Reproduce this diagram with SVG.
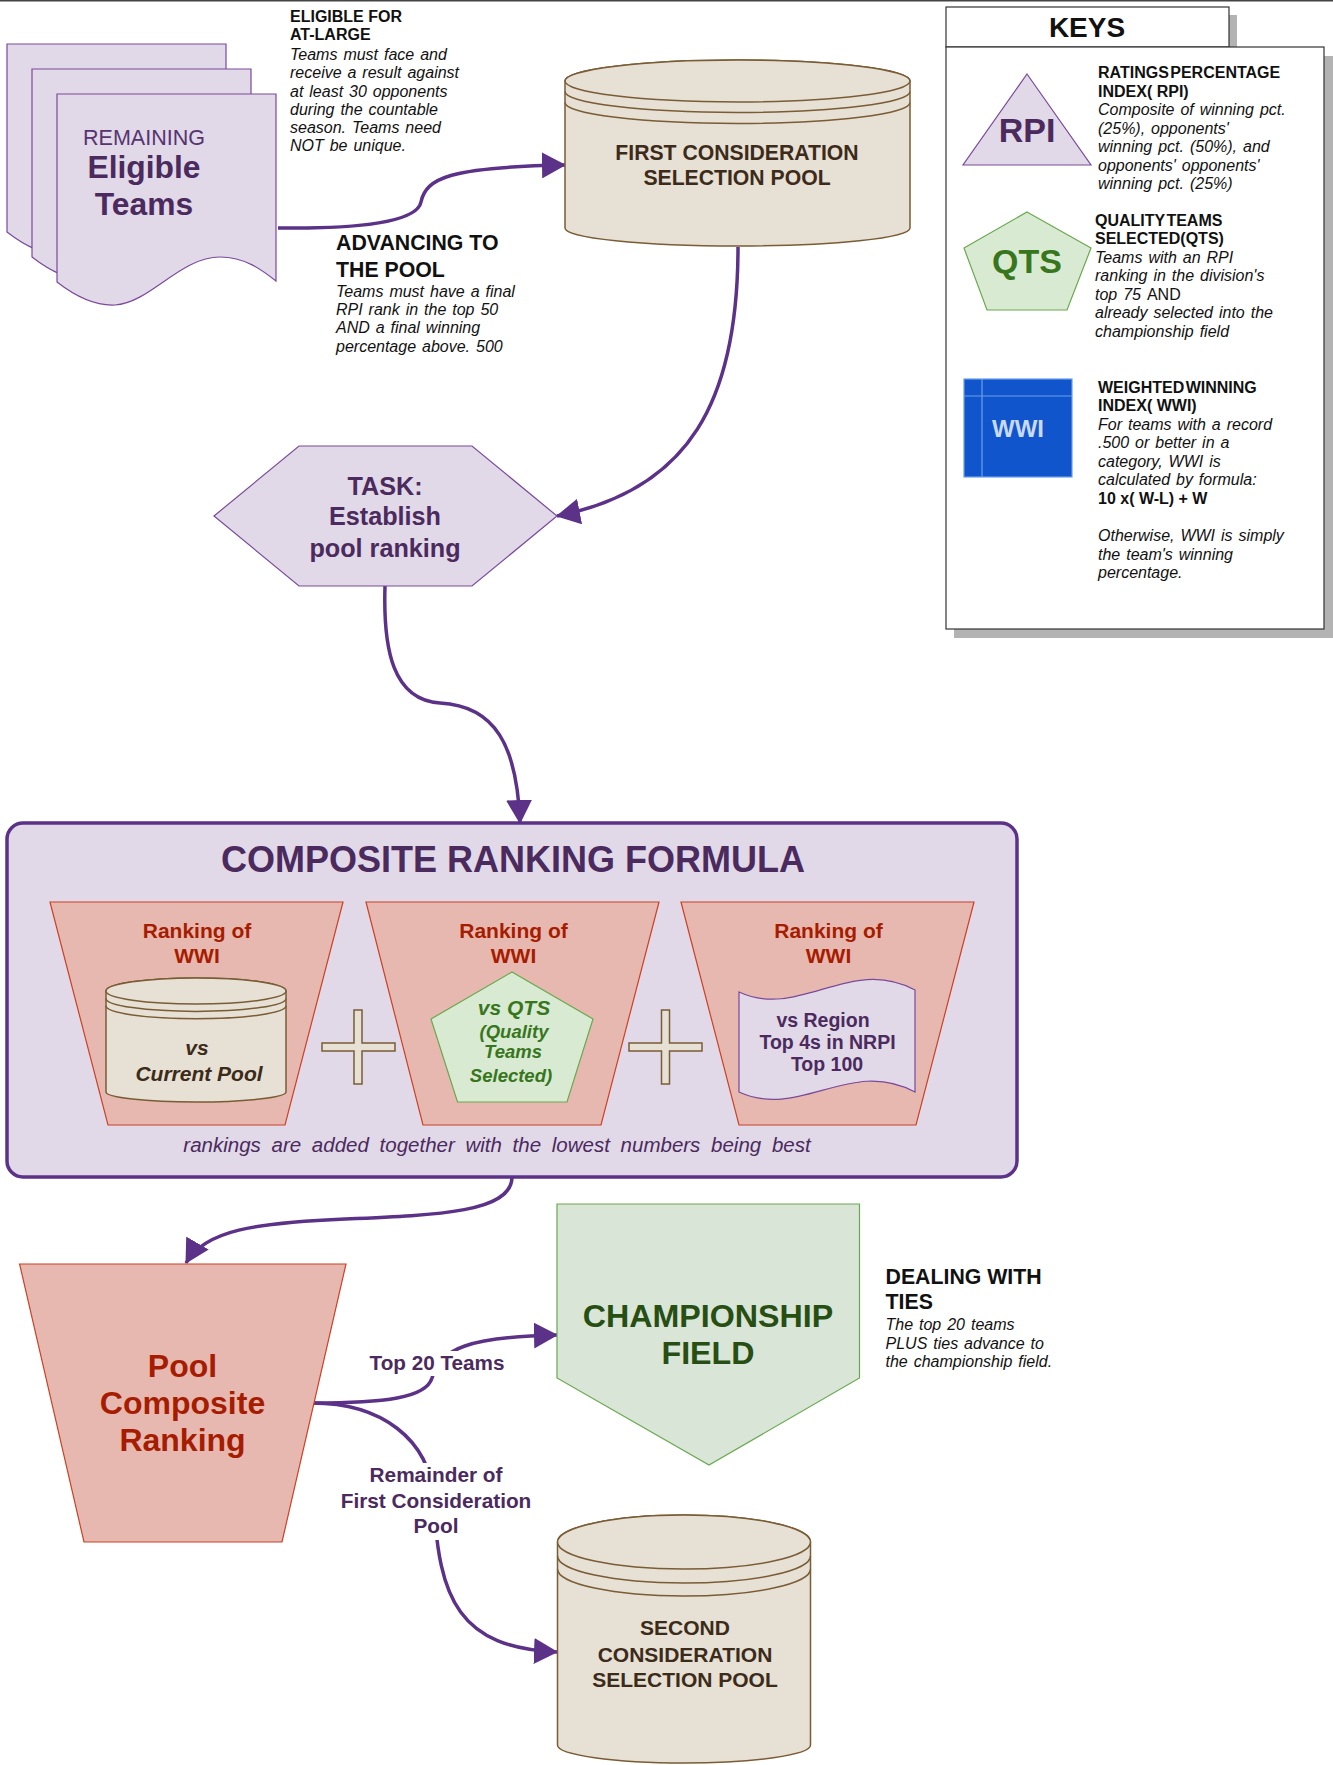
<svg xmlns="http://www.w3.org/2000/svg" width="1333" height="1765" viewBox="0 0 1333 1765">
<defs>
<style>
.f{font-family:'Liberation Sans',Arial,Helvetica,sans-serif}
.b{font-weight:bold}
.i{font-style:italic}
.c{text-anchor:middle}
.conn{fill:none;stroke:#5b3288;stroke-width:3.5;marker-end:url(#ah)}
.lav{fill:#e1d8e8;stroke:#7a4a9a;stroke-width:1.2}
.trap{fill:#e6b8af;stroke:#cc4125;stroke-width:1.2}
.cyl{fill:#e6e0d5;stroke:#7a5c35;stroke-width:1.5}
.rim{fill:none;stroke:#7a5c35;stroke-width:1.5}
.grn{fill:#d9ead3;stroke:#6aa84f;stroke-width:1.2}
.pur{fill:#4b2a5e}
.red{fill:#a61c00}
.brn{fill:#3d2b1a}
.note{font-size:16px;word-spacing:1.5px;fill:#111}
.hd{font-size:16px;font-weight:bold;fill:#111}
</style>
<marker id="ah" markerUnits="userSpaceOnUse" markerWidth="24" markerHeight="26" viewBox="0 0 24 26" refX="23" refY="13" orient="auto">
<path d="M0,0 L24,13 L0,26 z" fill="#5b3288"/>
</marker>
</defs>
<rect x="0" y="0" width="1333" height="1765" fill="#ffffff"/>
<line x1="0" y1="0.75" x2="1333" y2="0.75" stroke="#444" stroke-width="1.5"/>

<g id="connectors">
<path class="conn" d="M278,228 C360,229 417,222 421,202 C426,178 450,167 565,165"/>
<path class="conn" d="M738,247 C738,400 690,490 557,516"/>
<path class="conn" d="M385,586 C383,650 393,700 440,703 C495,706 517,745 520,823"/>
<path class="conn" d="M512,1177 C512,1212 440,1215 345,1219 C255,1223 205,1230 186,1263"/>
<path class="conn" d="M312,1403 C385,1403 426,1398 432,1378 C440,1348 470,1337 557,1335"/>
<path class="conn" d="M312,1403 C380,1403 430,1438 434,1500 C438,1600 460,1648 557,1652"/>
<rect x="364" y="1351" width="146" height="25" fill="#ffffff"/>
<text class="f b c pur" x="437" y="1370" font-size="20.7">Top 20 Teams</text>
<rect x="333" y="1463" width="206" height="77" fill="#ffffff"/>
<text class="f b c pur" font-size="20.8"><tspan x="436" y="1482">Remainder of</tspan><tspan x="436" y="1508">First Consideration</tspan><tspan x="436" y="1533">Pool</tspan></text>
</g>

<g id="eligible-teams">
<path class="lav" d="M7,44 H226 V231 C212,220 195,207 170,207 C130,207 100,253 65,255 C45,256 25,246 7,232 Z"/>
<path class="lav" d="M32,69 H251 V256 C237,245 220,232 195,232 C155,232 125,278 90,280 C70,281 50,271 32,257 Z"/>
<path class="lav" d="M57,94 H276 V281 C262,270 245,257 220,257 C180,257 150,303 115,305 C95,306 75,296 57,282 Z"/>
<text class="f c" x="144" y="145" font-size="21.5" fill="#553470">REMAINING</text>
<text class="f b c pur" x="144" y="178" font-size="31.8">Eligible</text>
<text class="f b c pur" x="144" y="215" font-size="31.8">Teams</text>
</g>

<g id="note-eligible">
<text class="f hd" x="290" y="22">ELIGIBLE FOR</text>
<text class="f hd" x="290" y="40">AT-LARGE</text>
<text class="f i note"><tspan x="290" y="60">Teams must face and</tspan><tspan x="290" y="78">receive a result against</tspan><tspan x="290" y="97">at least 30 opponents</tspan><tspan x="290" y="115">during the countable</tspan><tspan x="290" y="133">season. Teams need</tspan><tspan x="290" y="151">NOT be unique.</tspan></text>
</g>

<g id="note-advancing">
<text class="f b" x="336" y="250" font-size="21.3" fill="#111">ADVANCING TO</text>
<text class="f b" x="336" y="277" font-size="21.3" fill="#111">THE POOL</text>
<text class="f i note"><tspan x="336" y="297">Teams must have a final</tspan><tspan x="336" y="315">RPI rank in the top 50</tspan><tspan x="336" y="333">AND a final winning</tspan><tspan x="336" y="352">percentage above. 500</tspan></text>
</g>

<g id="first-pool">
<path class="cyl" d="M565,81 V228 A172.5,18 0 0 0 910,228 V81 A172.5,21 0 0 0 565,81 Z"/>
<ellipse class="cyl" cx="737.5" cy="81" rx="172.5" ry="21"/>
<path class="rim" d="M565,91.5 A172.5,21 0 0 0 910,91.5"/>
<path class="rim" d="M565,102.5 A172.5,21 0 0 0 910,102.5"/>
<text class="f b c brn" x="737" y="160" font-size="21.2">FIRST CONSIDERATION</text>
<text class="f b c brn" x="737" y="185" font-size="21.2">SELECTION POOL</text>
</g>

<g id="keys">
<rect x="954" y="15" width="283" height="40" fill="#b3b3b3"/>
<rect x="946" y="7" width="283" height="40" fill="#ffffff" stroke="#333" stroke-width="1.2"/>
<text class="f b c" x="1087" y="37" font-size="28" fill="#111">KEYS</text>
<rect x="954" y="56" width="379" height="582" fill="#b3b3b3"/>
<rect x="946" y="47" width="378" height="582" fill="#ffffff" stroke="#333" stroke-width="1.2"/>
<g id="key-rpi">
<polygon class="lav" points="1027,74 1091,165 963,165"/>
<text class="f b c pur" x="1027" y="142" font-size="34">RPI</text>
<text class="f hd" x="1098" y="78" word-spacing="-3">RATINGS PERCENTAGE</text>
<text class="f hd" x="1098" y="97">INDEX( RPI)</text>
<text class="f i note"><tspan x="1098" y="115">Composite of winning pct.</tspan><tspan x="1098" y="134">(25%), opponents'</tspan><tspan x="1098" y="152">winning pct. (50%), and</tspan><tspan x="1098" y="171">opponents' opponents'</tspan><tspan x="1098" y="189">winning pct. (25%)</tspan></text>
</g>
<g id="key-qts">
<polygon class="grn" points="1027,212 1091,248 1067,310 987,310 964,248"/>
<text class="f b c" x="1027" y="273" font-size="34" fill="#38761d">QTS</text>
<text class="f hd" x="1095" y="226" word-spacing="-3">QUALITY TEAMS</text>
<text class="f hd" x="1095" y="244">SELECTED(QTS)</text>
<text class="f i note"><tspan x="1095" y="263">Teams with an RPI</tspan><tspan x="1095" y="281">ranking in the division's</tspan><tspan x="1095" y="300">top 75 <tspan font-style="normal">AND</tspan></tspan><tspan x="1095" y="318">already selected into the</tspan><tspan x="1095" y="337">championship field</tspan></text>
</g>
<g id="key-wwi">
<rect x="964" y="379" width="108" height="98" fill="#1155cc" stroke="#6d9eeb" stroke-width="1.2"/>
<line x1="982" y1="379" x2="982" y2="477" stroke="#6d9eeb" stroke-width="1.2"/>
<line x1="964" y1="396" x2="1072" y2="396" stroke="#6d9eeb" stroke-width="1.2"/>
<text class="f b c" x="1018" y="437" font-size="24" fill="#c9daf8">WWI</text>
<text class="f hd" x="1098" y="393" word-spacing="-3">WEIGHTED WINNING</text>
<text class="f hd" x="1098" y="411">INDEX( WWI)</text>
<text class="f i note"><tspan x="1098" y="430">For teams with a record</tspan><tspan x="1098" y="448">.500 or better in a</tspan><tspan x="1098" y="467">category, WWI is</tspan><tspan x="1098" y="485">calculated by formula:</tspan></text>
<text class="f hd" x="1098" y="504">10 x( W-L) + W</text>
<text class="f i note"><tspan x="1098" y="541">Otherwise, WWI is simply</tspan><tspan x="1098" y="560">the team's winning</tspan><tspan x="1098" y="578">percentage.</tspan></text>
</g>
</g>

<g id="task">
<polygon class="lav" points="214,516 299,446 472,446 557,516 472,586 299,586"/>
<text class="f b c pur" font-size="25.2"><tspan x="385" y="495">TASK:</tspan><tspan x="385" y="525">Establish</tspan><tspan x="385" y="557">pool ranking</tspan></text>
</g>

<g id="composite-formula">
<rect x="7" y="823" width="1010" height="354" rx="16" fill="#e1d8e8" stroke="#5b3288" stroke-width="3.5"/>
<text class="f b c pur" x="513" y="872" font-size="36">COMPOSITE RANKING FORMULA</text>
<g id="rank-current">
<polygon class="trap" points="50,902 343,902 285,1125 108,1125"/>
<text class="f b c red" font-size="21"><tspan x="197" y="938">Ranking of</tspan><tspan x="197" y="963">WWI</tspan></text>
<path class="cyl" d="M106,991 V1092 A90,10 0 0 0 286,1092 V991 A90,13 0 0 0 106,991 Z"/>
<ellipse class="cyl" cx="196" cy="991" rx="90" ry="13"/>
<path class="rim" d="M106,998.4 A90,13 0 0 0 286,998.4"/>
<path class="rim" d="M106,1005.7 A90,13 0 0 0 286,1005.7"/>
<text class="f b i c brn" font-size="21"><tspan x="197" y="1055">vs</tspan><tspan x="199" y="1081">Current Pool</tspan></text>
</g>
<path id="plus-1" class="cyl" d="M354,1010 H362 V1043 H395 V1051 H362 V1084 H354 V1051 H322 V1043 H354 Z"/>
<g id="rank-qts">
<polygon class="trap" points="366,902 659,902 601,1125 423,1125"/>
<text class="f b c red" font-size="21"><tspan x="513.5" y="938">Ranking of</tspan><tspan x="513.5" y="963">WWI</tspan></text>
<polygon class="grn" points="512,972 593,1019 567,1102 457.5,1102 431,1019"/>
<text class="f b i c" x="514" y="1015" font-size="21" fill="#38761d">vs QTS</text>
<text class="f b i c" font-size="18.5" fill="#38761d"><tspan x="514" y="1038">(Quality</tspan><tspan x="513" y="1058">Teams</tspan><tspan x="511" y="1082">Selected)</tspan></text>
</g>
<path id="plus-2" class="cyl" d="M661.5,1010 H669.5 V1043 H702 V1051 H669.5 V1084 H661.5 V1051 H629 V1043 H661.5 Z"/>
<g id="rank-region">
<polygon class="trap" points="681,902 974,902 916,1125 739,1125"/>
<text class="f b c red" font-size="21"><tspan x="828.5" y="938">Ranking of</tspan><tspan x="828.5" y="963">WWI</tspan></text>
<path class="lav" d="M739,992 C800,1020 850,955 915,990 V1092 C850,1057 800,1120 739,1092 Z"/>
<text class="f b c pur" font-size="19.5"><tspan x="823" y="1027">vs Region</tspan><tspan x="827.5" y="1049">Top 4s in NRPI</tspan><tspan x="827" y="1071">Top 100</tspan></text>
</g>
<text class="f i c pur" x="497" y="1152" font-size="20.5" word-spacing="5">rankings are added together with the lowest numbers being best</text>
</g>

<g id="pool-composite">
<polygon class="trap" points="19.6,1264 346,1264 282,1542 84,1542"/>
<text class="f b c red" font-size="32"><tspan x="182.5" y="1377">Pool</tspan><tspan x="182.5" y="1414">Composite</tspan><tspan x="182.5" y="1451">Ranking</tspan></text>
</g>

<g id="championship">
<polygon points="557,1204 859.5,1204 859.5,1378 709,1465 557,1378" fill="#d9e5d6" stroke="#6aa84f" stroke-width="1.2"/>
<text class="f b c" font-size="32.2" fill="#274e13"><tspan x="708" y="1327">CHAMPIONSHIP</tspan><tspan x="708" y="1364">FIELD</tspan></text>
</g>

<g id="note-ties">
<text class="f b" x="885.5" y="1284" font-size="21.3" fill="#111">DEALING WITH</text>
<text class="f b" x="885.5" y="1309" font-size="21.3" fill="#111">TIES</text>
<text class="f i note"><tspan x="885.5" y="1330">The top 20 teams</tspan><tspan x="885.5" y="1349">PLUS ties advance to</tspan><tspan x="885.5" y="1367">the championship field.</tspan></text>
</g>

<g id="second-pool">
<path class="cyl" d="M557.5,1542 V1745 A126.5,18 0 0 0 810.5,1745 V1542 A126.5,27 0 0 0 557.5,1542 Z"/>
<ellipse class="cyl" cx="684" cy="1542" rx="126.5" ry="27"/>
<path class="rim" d="M557.5,1556 A126.5,27 0 0 0 810.5,1556"/>
<path class="rim" d="M557.5,1569 A126.5,27 0 0 0 810.5,1569"/>
<text class="f b c brn" font-size="21"><tspan x="685" y="1635">SECOND</tspan><tspan x="685" y="1662">CONSIDERATION</tspan><tspan x="685" y="1687">SELECTION POOL</tspan></text>
</g>
</svg>
